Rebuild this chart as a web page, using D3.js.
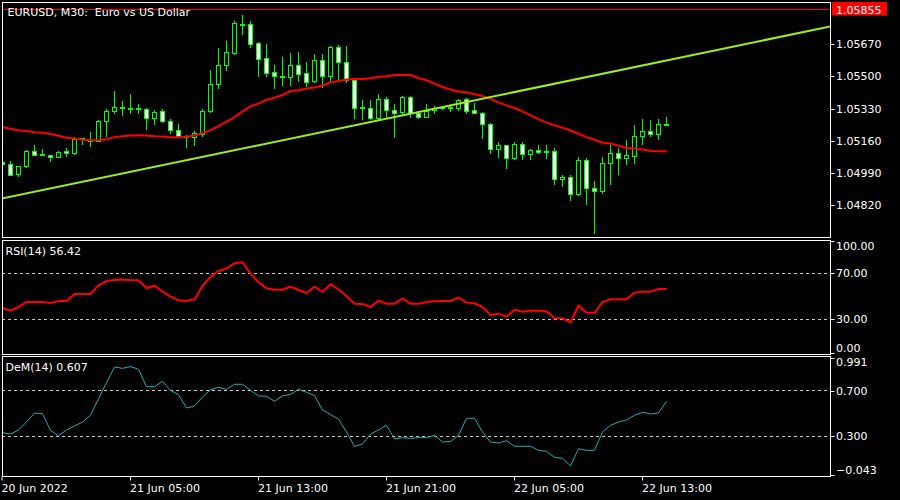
<!DOCTYPE html>
<html><head><meta charset="utf-8">
<script src="https://cdn.jsdelivr.net/npm/d3@7"></script>
<style>
html,body{margin:0;padding:0;background:#000;}
svg{display:block;background:#000;}
text{font-family:"DejaVu Sans",sans-serif;font-size:11px;fill:#fff;white-space:pre;}
</style></head><body>
<svg id="c" width="900" height="500"></svg>
<script>
// ---------- DATA ----------
const symbolTitle = "EURUSD, M30:  Euro vs US Dollar";
const startTime = "2022-06-20 21:00";   // first visible M30 bar
const opens = [1.05050,1.05038,1.04982,1.05025,1.05104,1.05087,1.05085,1.05075,1.05106,1.05094,
  1.05176,1.05159,1.05161,1.05264,1.05317,1.05337,1.05331,1.05329,1.05330,1.05280,
  1.05319,1.05266,1.05218,1.05184,1.05179,1.05197,1.05317,1.05460,1.05561,1.05623,
  1.05780,1.05776,1.05675,1.05595,1.05523,1.05503,1.05498,1.05558,1.05516,1.05476,
  1.05585,1.05503,1.05654,1.05579,1.05480,1.05335,1.05335,1.05280,1.05383,1.05324,
  1.05310,1.05393,1.05308,1.05285,1.05324,1.05334,1.05331,1.05335,1.05383,1.05321,
  1.05308,1.05250,1.05115,1.05138,1.05067,1.05144,1.05088,1.05112,1.05105,1.05106,
  1.04956,1.04968,1.04876,1.05059,1.04910,1.04892,1.05043,1.05096,1.05069,1.05078,
  1.05184,1.05213,1.05197,1.05250];
const highs = [1.05055,1.05055,1.05028,1.05113,1.05140,1.05117,1.05087,1.05103,1.05122,1.05179,
  1.05177,1.05204,1.05268,1.05326,1.05422,1.05368,1.05406,1.05354,1.05335,1.05321,
  1.05326,1.05274,1.05250,1.05188,1.05214,1.05326,1.05533,1.05650,1.05687,1.05793,
  1.05825,1.05793,1.05682,1.05673,1.05563,1.05602,1.05625,1.05629,1.05576,1.05617,
  1.05617,1.05661,1.05666,1.05661,1.05485,1.05374,1.05374,1.05406,1.05393,1.05356,
  1.05399,1.05399,1.05315,1.05353,1.05342,1.05342,1.05347,1.05381,1.05386,1.05358,
  1.05310,1.05252,1.05151,1.05140,1.05151,1.05151,1.05116,1.05135,1.05135,1.05124,
  1.04981,1.04977,1.05076,1.05066,1.04949,1.05076,1.05138,1.05124,1.05165,1.05241,
  1.05273,1.05268,1.05273,1.05283];
const lows = [1.05034,1.04978,1.04972,1.05019,1.05084,1.05084,1.05051,1.05074,1.05080,1.05092,
  1.05142,1.05131,1.05160,1.05184,1.05306,1.05294,1.05306,1.05306,1.05221,1.05248,
  1.05261,1.05200,1.05184,1.05126,1.05138,1.05184,1.05310,1.05439,1.05533,1.05618,
  1.05724,1.05657,1.05501,1.05503,1.05438,1.05453,1.05455,1.05476,1.05450,1.05471,
  1.05443,1.05471,1.05478,1.05471,1.05280,1.05273,1.05273,1.05269,1.05287,1.05179,
  1.05303,1.05285,1.05282,1.05283,1.05306,1.05326,1.05317,1.05321,1.05306,1.05305,
  1.05174,1.05094,1.05073,1.05014,1.05062,1.05062,1.05062,1.05094,1.05067,1.04929,
  1.04918,1.04848,1.04871,1.04823,1.04674,1.04881,1.04929,1.04982,1.05035,1.05041,
  1.05142,1.05184,1.05168,1.05244];
const closes = [1.05039,1.04979,1.05027,1.05106,1.05085,1.05090,1.05073,1.05101,1.05094,1.05170,
  1.05168,1.05164,1.05266,1.05319,1.05340,1.05335,1.05335,1.05331,1.05282,1.05314,
  1.05266,1.05218,1.05186,1.05179,1.05202,1.05319,1.05462,1.05563,1.05627,1.05783,
  1.05776,1.05673,1.05592,1.05517,1.05503,1.05500,1.05558,1.05514,1.05471,1.05585,
  1.05503,1.05654,1.05577,1.05480,1.05335,1.05337,1.05280,1.05383,1.05322,1.05306,
  1.05393,1.05306,1.05285,1.05315,1.05335,1.05337,1.05339,1.05374,1.05317,1.05306,
  1.05248,1.05115,1.05140,1.05067,1.05145,1.05088,1.05113,1.05099,1.05103,1.04956,
  1.04970,1.04878,1.05059,1.04910,1.04892,1.05043,1.05096,1.05069,1.05082,1.05186,
  1.05213,1.05197,1.05250,1.05245];
const maValues = [1.05232,1.05223,1.05214,1.05211,1.05205,1.05202,1.05195,1.05186,1.05176,1.05172,
  1.05165,1.05163,1.05163,1.05168,1.05179,1.05184,1.05188,1.05189,1.05188,1.05184,
  1.05182,1.05179,1.05179,1.05181,1.05188,1.05200,1.05216,1.05237,1.05261,1.05285,
  1.05315,1.05342,1.05356,1.05377,1.05387,1.05402,1.05423,1.05427,1.05436,1.05441,
  1.05452,1.05468,1.05476,1.05484,1.05487,1.05487,1.05491,1.05498,1.05501,1.05508,
  1.05508,1.05507,1.05492,1.05480,1.05462,1.05444,1.05431,1.05420,1.05416,1.05406,
  1.05397,1.05381,1.05363,1.05347,1.05333,1.05315,1.05294,1.05274,1.05256,1.05241,
  1.05229,1.05214,1.05197,1.05179,1.05165,1.05149,1.05145,1.05133,1.05122,1.05119,
  1.05113,1.05106,1.05104,1.05104];
const rsiValues = [39.6,37.5,40.7,45,45,45,44.2,45.9,45.9,52,
  52,52,59.6,63.3,64.2,64.5,63.9,64,57.2,59.2,
  54,49.7,46.5,45.9,47.4,59,67,72,74.3,78.7,
  79.6,69.7,62.2,57,55.7,55.7,58.4,55.5,52.9,58.4,
  53.7,60.4,56.1,50.3,43.6,43.3,40.7,46.2,43.6,43.6,
  48.2,43.6,43.6,45,45.6,45.9,45.9,48.8,44.5,43.9,
  40.7,33.7,34.9,32.3,38.3,36.6,37.5,37.5,37,30.9,
  30.9,27.4,41.8,35.7,35.7,45,47.4,47.4,47.4,53.2,
  54,54,56.3,56.42];
const demValues = [0.332,0.320,0.355,0.425,0.504,0.498,0.352,0.305,0.355,0.390,
  0.425,0.484,0.630,0.770,0.908,0.896,0.911,0.888,0.735,0.735,
  0.782,0.703,0.665,0.548,0.566,0.645,0.709,0.730,0.712,0.756,
  0.756,0.703,0.654,0.651,0.607,0.654,0.668,0.712,0.686,0.657,
  0.531,0.490,0.452,0.338,0.212,0.232,0.320,0.355,0.396,0.276,
  0.288,0.282,0.288,0.288,0.309,0.250,0.255,0.309,0.458,0.458,
  0.338,0.250,0.241,0.261,0.212,0.212,0.212,0.177,0.168,0.116,
  0.107,0.040,0.191,0.177,0.177,0.338,0.396,0.425,0.443,0.484,
  0.511,0.496,0.504,0.607];
const trendTimes = ["2022-06-20 21:00","2022-06-23 01:00"];
const trendPrices = [1.04855,1.05769];
const priceLine = 1.05855;
const priceTicks = [1.04820,1.04990,1.05160,1.05330,1.05500,1.05670];
const rsiTicks = [0,30,70,100];
const rsiLevels = [30,70];
const rsiLabel = "RSI(14) 56.42";
const demTicks = [-0.043,0.300,0.700,0.991];
const demLevels = [0.3,0.7];
const demLabel = "DeM(14) 0.607";
const xTickTimes = ["2022-06-20 21:00","2022-06-21 05:00","2022-06-21 13:00","2022-06-21 21:00","2022-06-22 05:00","2022-06-22 13:00"];
const xTickLabels = ["20 Jun 2022","21 Jun 05:00","21 Jun 13:00","21 Jun 21:00","22 Jun 05:00","22 Jun 13:00"];

// ---------- LAYOUT ----------
const svg = d3.select("#c");
const parse = d3.utcParse("%Y-%m-%d %H:%M");
const t0 = parse(startTime);
const barTimes = closes.map((_, i) => d3.utcMinute.offset(t0, 30 * i));
const L = 2, R = 830;
const P = {main:{top:2,bottom:237}, rsi:{top:240,bottom:354}, dem:{top:356,bottom:476}};
const x = d3.scaleUtc().domain([barTimes[0], barTimes[80]]).range([2.5, 642.5]);
const yP = d3.scaleLinear().domain([1.04820,1.05670]).range([205,44.3]);
const yR = d3.scaleLinear().domain([0,100]).range([353.8,238.8]);
const yD = d3.scaleLinear().domain([-0.043,0.991]).range([475.4,357.5]);
const px = v => Math.floor(v) + 0.5;
const LIME = "#00ff00";

const defs = svg.append("defs");
Object.entries(P).forEach(([k,p]) => {
  defs.append("clipPath").attr("id","clip-"+k).append("rect")
    .attr("x",L+1).attr("y",p.top+1).attr("width",R-L-1).attr("height",p.bottom-p.top-1);
});

// ---------- MAIN PANEL ----------
const gM = svg.append("g").attr("clip-path","url(#clip-main)");
// current price line
gM.append("line").attr("x1",L).attr("x2",R)
  .attr("y1",px(yP(priceLine))).attr("y2",px(yP(priceLine)))
  .attr("stroke","#ff0000").attr("stroke-width",1);

const candles = barTimes.map((t,i) => ({t, o:opens[i], h:highs[i], l:lows[i], c:closes[i]}));
gM.selectAll("line.wick").data(candles).join("line").attr("class","wick")
  .attr("x1",d=>px(x(d.t))).attr("x2",d=>px(x(d.t)))
  .attr("y1",d=>Math.round(yP(d.h))).attr("y2",d=>Math.round(yP(d.l))+1)
  .attr("stroke",LIME).attr("stroke-width",1);
gM.selectAll("rect.body").data(candles).join("rect").attr("class","body")
  .attr("x",d=>px(x(d.t))-2).attr("width",4)
  .attr("y",d=>Math.round(yP(Math.max(d.o,d.c)))+0.5)
  .attr("height",d=>Math.max(1, Math.round(yP(Math.min(d.o,d.c))) - Math.round(yP(Math.max(d.o,d.c)))))
  .attr("fill",d=>d.c<d.o?"#ffffff":"#000000")
  .attr("stroke",LIME).attr("stroke-width",1);

// moving average
gM.append("path").datum(maValues)
  .attr("d", d3.line().x((d,i)=>x(barTimes[i])).y(d=>yP(d)))
  .attr("fill","none").attr("stroke","#ff0000").attr("stroke-width",2);
// trend line
gM.append("path").datum(trendTimes.map((t,i)=>[parse(t),trendPrices[i]]))
  .attr("d", d3.line().x(d=>x(d[0])).y(d=>yP(d[1])))
  .attr("fill","none").attr("stroke","#9ef01a").attr("stroke-width",2);

svg.append("text").attr("x",7.5).attr("y",15.5).text(symbolTitle);

// ---------- RSI PANEL ----------
const gR = svg.append("g").attr("clip-path","url(#clip-rsi)");
gR.selectAll("line.lvl").data(rsiLevels).join("line").attr("class","lvl")
  .attr("x1",L).attr("x2",R).attr("y1",d=>px(yR(d))).attr("y2",d=>px(yR(d)))
  .attr("stroke","#c8c8c8").attr("stroke-dasharray","3,3");
gR.append("path").datum(rsiValues)
  .attr("d", d3.line().x((d,i)=>x(barTimes[i])).y(d=>yR(d)))
  .attr("fill","none").attr("stroke","#ff0000").attr("stroke-width",2);
svg.append("text").attr("x",5.5).attr("y",254.5).text(rsiLabel);

// ---------- DeM PANEL ----------
const gD = svg.append("g").attr("clip-path","url(#clip-dem)");
gD.selectAll("line.lvl").data(demLevels).join("line").attr("class","lvl")
  .attr("x1",L).attr("x2",R).attr("y1",d=>px(yD(d))).attr("y2",d=>px(yD(d)))
  .attr("stroke","#c8c8c8").attr("stroke-dasharray","3,3");
gD.append("path").datum(demValues)
  .attr("d", d3.line().x((d,i)=>x(barTimes[i])).y(d=>yD(d)))
  .attr("fill","none").attr("stroke","#20b2aa").attr("stroke-width",1);
svg.append("text").attr("x",5.5).attr("y",371).text(demLabel);

// ---------- PANEL BORDERS ----------
Object.values(P).forEach(p => {
  svg.append("rect").attr("x",L+0.5).attr("y",p.top+0.5)
    .attr("width",R-L).attr("height",p.bottom-p.top)
    .attr("fill","none").attr("stroke","#ffffff").attr("stroke-width",1);
});

// ---------- RIGHT AXES ----------
function rightAxis(scale, ticks, fmt, p) {
  const g = svg.append("g").attr("transform",`translate(${R+0.5},0)`)
    .call(d3.axisRight(scale).tickValues(ticks).tickFormat(fmt).tickSize(4).offset(0));
  g.attr("font-family",null).attr("font-size",null);
  g.select(".domain").remove();
  g.selectAll(".tick").each(function(d){
    const ty = scale(d);
    const cy = Math.round(Math.max(p.top+1, Math.min(p.bottom-1, ty))) + 0.5;
    const base = Math.max(p.top+10, Math.min(p.bottom-2, ty+4));
    const t = d3.select(this).attr("transform",`translate(0,${cy})`);
    t.select("line").attr("stroke","#ffffff").attr("x1",0).attr("x2",4);
    t.select("text").attr("x",5.5).attr("dy",null).attr("y",base-cy).attr("fill","#ffffff");
  });
}
rightAxis(yP, priceTicks, d3.format(".5f"), P.main);
rightAxis(yR, rsiTicks, d3.format(".2f"), P.rsi);
rightAxis(yD, demTicks, d3.format(".3f"), P.dem);

// price label
const plY = px(yP(priceLine));
svg.append("rect").attr("x",832).attr("y",plY-7.5).attr("width",55).attr("height",13.5).attr("fill","#ff0000");
svg.append("text").attr("x",836).attr("y",plY+4.5).text(d3.format(".5f")(priceLine));

// ---------- BOTTOM AXIS ----------
const gx = svg.append("g").attr("transform",`translate(0,${P.dem.bottom+0.5})`)
  .call(d3.axisBottom(x).tickValues(xTickTimes.map(parse)).tickFormat((d,i)=>xTickLabels[i]).tickSize(4).offset(0));
gx.attr("font-family",null).attr("font-size",null);
gx.select(".domain").remove();
gx.selectAll(".tick").each(function(d){
  const cx = px(x(d)) - (x(d) < 3 ? 0.5 : 0);
  const t = d3.select(this).attr("transform",`translate(${cx},0)`);
  t.select("line").attr("stroke","#ffffff");
  t.select("text").attr("text-anchor","start").attr("x",-0.5).attr("dy",null).attr("y",15.5).attr("fill","#ffffff");
});
</script>
</body></html>
